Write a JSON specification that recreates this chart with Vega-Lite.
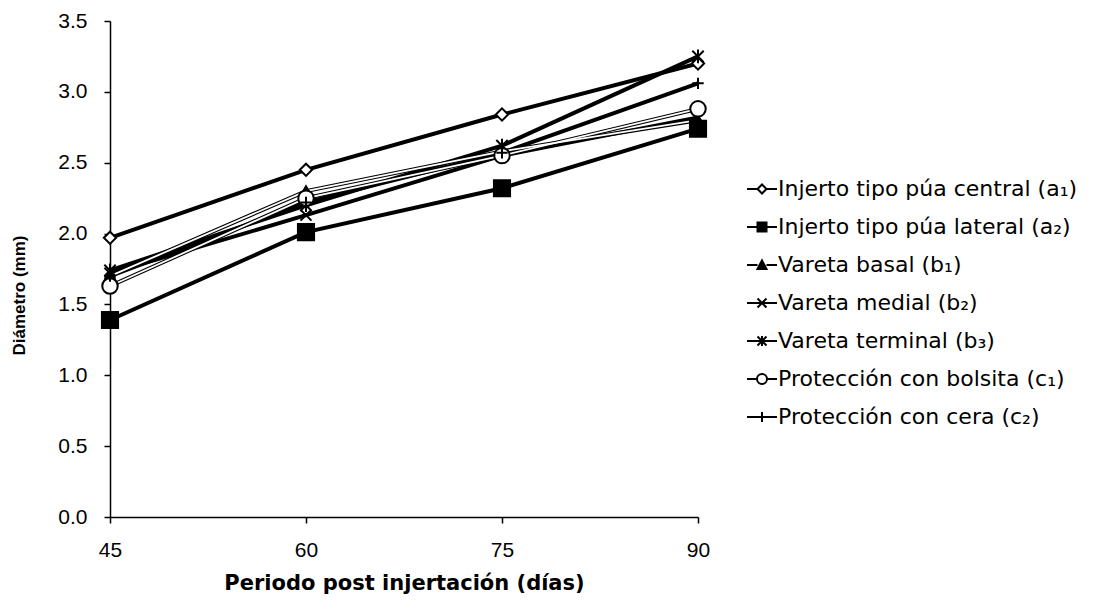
{
  "$schema": "https://vega.github.io/schema/vega-lite/v6.json",
  "autosize": "none",
  "width": 588,
  "height": 496,
  "padding": {"left": 110, "top": 21, "right": 422, "bottom": 92},
  "background": "white",
  "config": {
    "font": "Liberation Sans",
    "view": {"stroke": null}
  },
  "data": {"values": [
    {"d": 45, "s": "Injerto tipo púa central (a₁)", "v": 1.97},
    {"d": 60, "s": "Injerto tipo púa central (a₁)", "v": 2.45},
    {"d": 75, "s": "Injerto tipo púa central (a₁)", "v": 2.84},
    {"d": 90, "s": "Injerto tipo púa central (a₁)", "v": 3.20},
    {"d": 45, "s": "Injerto tipo púa lateral (a₂)", "v": 1.39},
    {"d": 60, "s": "Injerto tipo púa lateral (a₂)", "v": 2.01},
    {"d": 75, "s": "Injerto tipo púa lateral (a₂)", "v": 2.32},
    {"d": 90, "s": "Injerto tipo púa lateral (a₂)", "v": 2.74},
    {"d": 45, "s": "Vareta basal (b₁)", "v": 1.70},
    {"d": 60, "s": "Vareta basal (b₁)", "v": 2.30},
    {"d": 75, "s": "Vareta basal (b₁)", "v": 2.58},
    {"d": 90, "s": "Vareta basal (b₁)", "v": 2.80},
    {"d": 45, "s": "Vareta medial (b₂)", "v": 1.72},
    {"d": 60, "s": "Vareta medial (b₂)", "v": 2.13},
    {"d": 75, "s": "Vareta medial (b₂)", "v": 2.55},
    {"d": 90, "s": "Vareta medial (b₂)", "v": 2.82},
    {"d": 45, "s": "Vareta terminal (b₃)", "v": 1.74},
    {"d": 60, "s": "Vareta terminal (b₃)", "v": 2.20},
    {"d": 75, "s": "Vareta terminal (b₃)", "v": 2.62},
    {"d": 90, "s": "Vareta terminal (b₃)", "v": 3.25},
    {"d": 45, "s": "Protección con bolsita (c₁)", "v": 1.63},
    {"d": 60, "s": "Protección con bolsita (c₁)", "v": 2.25},
    {"d": 75, "s": "Protección con bolsita (c₁)", "v": 2.55},
    {"d": 90, "s": "Protección con bolsita (c₁)", "v": 2.88},
    {"d": 45, "s": "Protección con cera (c₂)", "v": 1.70},
    {"d": 60, "s": "Protección con cera (c₂)", "v": 2.22},
    {"d": 75, "s": "Protección con cera (c₂)", "v": 2.57},
    {"d": 90, "s": "Protección con cera (c₂)", "v": 3.06}
  ]},
  "encoding": {
    "x": {"field": "d", "type": "quantitative", "scale": {"domain": [45, 90], "nice": false, "zero": false},
      "axis": {"values": [45, 60, 75, 90], "labelFlush": false, "title": "Periodo post injertación (días)", "grid": false, "domainColor": "black", "domainWidth": 1.5, "tickColor": "black", "tickWidth": 1.5, "tickSize": 6, "labelColor": "black", "labelFont": "Liberation Sans", "labelFontSize": 21, "labelPadding": 16, "titleColor": "black", "titleFont": "DejaVu Sans", "titleFontWeight": "bold", "titleFontSize": 21, "titlePadding": 12}},
    "y": {"field": "v", "type": "quantitative", "scale": {"domain": [0, 3.5], "nice": false},
      "axis": {"values": [0, 0.5, 1, 1.5, 2, 2.5, 3, 3.5], "format": ".1f", "title": "Diámetro (mm)", "grid": false, "domainColor": "black", "domainWidth": 1.5, "tickColor": "black", "tickWidth": 1.5, "tickSize": 6, "labelColor": "black", "labelFont": "Liberation Sans", "labelFontSize": 21, "labelPadding": 17, "titleColor": "black", "titleFont": "Liberation Sans", "titleFontWeight": "bold", "titleFontSize": 17, "titleX": -82, "titleY": 274}}
  },
  "layer": [
    {
      "mark": {"type": "line", "stroke": "black", "strokeWidth": 4},
      "encoding": {"detail": {"field": "s"}}
    },
    {
      "transform": [{"filter": "datum.s == 'Vareta basal (b₁)' || datum.s == 'Protección con bolsita (c₁)'"}],
      "mark": {"type": "line", "stroke": "white", "strokeWidth": 1.8},
      "encoding": {"detail": {"field": "s"}}
    },
    {
      "mark": {"type": "point", "filled": false, "stroke": "black", "strokeWidth": 2, "opacity": 1},
      "encoding": {
        "shape": {"field": "s", "type": "nominal", "legend": null,
          "scale": {"domain": ["Injerto tipo púa central (a₁)", "Injerto tipo púa lateral (a₂)", "Vareta basal (b₁)", "Vareta medial (b₂)", "Vareta terminal (b₃)", "Protección con bolsita (c₁)", "Protección con cera (c₂)"],
            "range": ["diamond", "square", "triangle-up", "M-1,-1L1,1M-1,1L1,-1", "M-1,-1L1,1M-1,1L1,-1M0,-1.2V1.2", "circle", "M0,-1V1M-1,0H1"]}},
        "fill": {"field": "s", "type": "nominal", "legend": null,
          "scale": {"domain": ["Injerto tipo púa central (a₁)", "Injerto tipo púa lateral (a₂)", "Vareta basal (b₁)", "Vareta medial (b₂)", "Vareta terminal (b₃)", "Protección con bolsita (c₁)", "Protección con cera (c₂)"],
            "range": ["white", "black", "black", "transparent", "transparent", "white", "transparent"]}},
        "size": {"field": "s", "type": "nominal", "legend": null,
          "scale": {"type": "ordinal", "domain": ["Injerto tipo púa central (a₁)", "Injerto tipo púa lateral (a₂)", "Vareta basal (b₁)", "Vareta medial (b₂)", "Vareta terminal (b₃)", "Protección con bolsita (c₁)", "Protección con cera (c₂)"],
            "range": [150, 260, 120, 120, 130, 240, 130]}}
      }
    },
    {
      "transform": [{"filter": "datum.d > 1000"}],
      "mark": {"type": "point", "filled": false, "stroke": "black", "strokeWidth": 2, "opacity": 1},
      "encoding": {
        "shape": {"field": "s", "type": "nominal",
          "scale": {"domain": ["Injerto tipo púa central (a₁)", "Injerto tipo púa lateral (a₂)", "Vareta basal (b₁)", "Vareta medial (b₂)", "Vareta terminal (b₃)", "Protección con bolsita (c₁)", "Protección con cera (c₂)"],
            "range": ["M-3,0H-0.9M0.9,0H3M0,-0.9L0.9,0L0,0.9L-0.9,0Z", "M-3,0H-0.9M0.9,0H3M-0.9,-0.9H0.9V0.9H-0.9Z", "M-3,0H-0.9M0.9,0H3M0,-0.9L0.9,0.8H-0.9Z", "M-3,0H3M-0.9,-0.9L0.9,0.9M-0.9,0.9L0.9,-0.9", "M-3,0H3M-0.9,-0.9L0.9,0.9M-0.9,0.9L0.9,-0.9M0,-1V1", "M-3,0H-1M1,0H3M-1,0A1,1,0,1,1,1,0A1,1,0,1,1,-1,0Z", "M-3,0H3M0,-1V1"]},
          "legend": {"title": null, "orient": "none", "legendX": 631, "legendY": 157, "symbolSize": 100, "symbolStrokeWidth": 2, "symbolOffset": 10, "labelOffset": 5, "labelFontSize": 22, "labelFont": "DejaVu Sans", "labelColor": "black", "rowPadding": 16, "labelLimit": 400}},
        "fill": {"field": "s", "type": "nominal",
          "scale": {"domain": ["Injerto tipo púa central (a₁)", "Injerto tipo púa lateral (a₂)", "Vareta basal (b₁)", "Vareta medial (b₂)", "Vareta terminal (b₃)", "Protección con bolsita (c₁)", "Protección con cera (c₂)"],
            "range": ["white", "black", "black", "transparent", "transparent", "white", "transparent"]},
          "legend": {"title": null, "orient": "none", "legendX": 631, "legendY": 157, "symbolSize": 100, "symbolStrokeWidth": 2, "symbolOffset": 10, "labelOffset": 5, "labelFontSize": 22, "labelFont": "DejaVu Sans", "labelColor": "black", "rowPadding": 16, "labelLimit": 400}}
      }
    }
  ],
  "resolve": {"scale": {"shape": "independent", "fill": "independent", "size": "independent"}}
}
